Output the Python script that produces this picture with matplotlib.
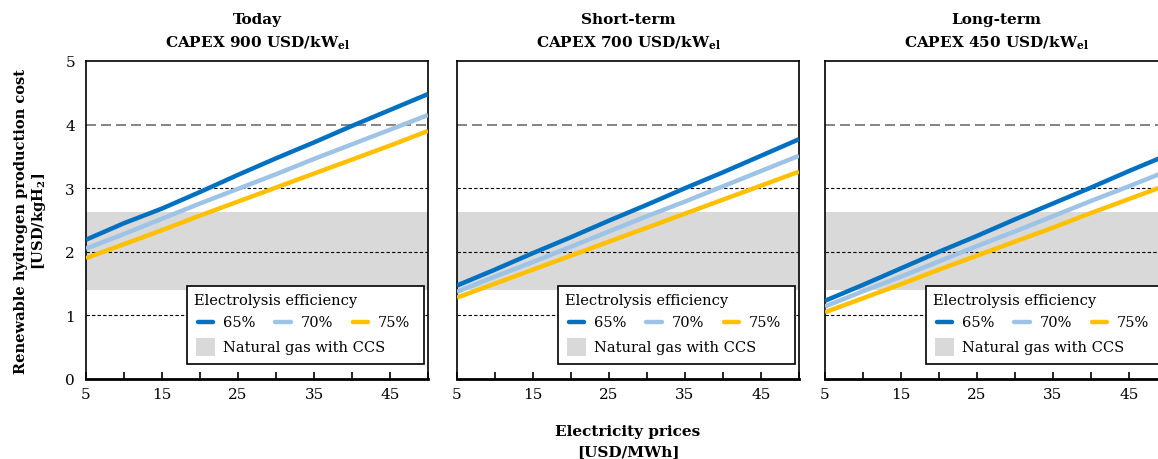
import numpy as np
import matplotlib.pyplot as plt
from matplotlib.patches import Rectangle

plt.rcParams['font.family'] = 'DejaVu Serif'
plt.rcParams['mathtext.fontset'] = 'custom'
plt.rcParams['mathtext.rm'] = 'DejaVu Serif'
plt.rcParams['mathtext.bf'] = 'DejaVu Serif:bold'

price = [5, 10, 15, 20, 25, 30, 35, 40, 45, 50]
effs = ['65%', '70%', '75%']
colors = ['#0070C0', '#9DC3E6', '#FFC000']

titles = ['Today', 'Short-term', 'Long-term']
capex = [900, 700, 450]

cost_today = [
    [2.19, 2.45, 2.68, 2.94, 3.21, 3.47, 3.72, 3.98, 4.23, 4.48],
    [2.05, 2.28, 2.52, 2.76, 2.99, 3.22, 3.46, 3.69, 3.92, 4.15],
    [1.90, 2.12, 2.34, 2.57, 2.79, 3.01, 3.23, 3.45, 3.67, 3.90],
]
cost_short = [
    [1.47, 1.72, 1.98, 2.23, 2.49, 2.74, 3.00, 3.25, 3.51, 3.77],
    [1.37, 1.61, 1.84, 2.08, 2.32, 2.56, 2.79, 3.03, 3.27, 3.51],
    [1.28, 1.50, 1.72, 1.94, 2.16, 2.38, 2.60, 2.82, 3.04, 3.26],
]
cost_long = [
    [1.23, 1.48, 1.74, 2.00, 2.25, 2.51, 2.76, 3.01, 3.27, 3.52],
    [1.14, 1.38, 1.61, 1.85, 2.09, 2.32, 2.56, 2.80, 3.03, 3.27],
    [1.05, 1.27, 1.49, 1.72, 1.94, 2.16, 2.38, 2.61, 2.83, 3.05],
]
panels = [cost_today, cost_short, cost_long]

ccs_low, ccs_high = 1.40, 2.63

fig = plt.figure(figsize=(11.58, 4.6), dpi=100)
lefts = [86, 457, 825]

for k in range(3):
    ax = fig.add_axes([lefts[k] / 1158, 80 / 460, 342 / 1158, 318 / 460])
    ax.axhspan(ccs_low, ccs_high, color='#D9D9D9', lw=0, zorder=0)
    for yv in [1, 2, 3]:
        ax.axhline(yv, color='black', lw=0.8, ls=(0, (3, 2)), zorder=1)
    ax.axhline(4, color='#707070', lw=1.2, ls=(0, (6, 3)), zorder=1)
    for i in range(3):
        ax.plot(price, panels[k][i], color=colors[i], lw=3.2, zorder=3,
                solid_capstyle='butt')
    ax.set_xlim(5, 50)
    ax.set_ylim(0, 5)
    ax.set_xticks([5, 15, 25, 35, 45])
    ax.set_xticks([10, 20, 30, 40, 50], minor=True)
    ax.tick_params(axis='x', which='both', direction='in', length=5, width=1.2,
                   labelsize=11, pad=6)
    ax.tick_params(axis='y', length=0, labelsize=11, pad=8)
    if k > 0:
        ax.set_yticklabels([])
    for s in ['top', 'left', 'right']:
        ax.spines[s].set_linewidth(1.2)
    ax.spines['bottom'].set_linewidth(2)

    ax.text(0.5, 1.132, titles[k], transform=ax.transAxes, ha='center',
            va='center', fontsize=11, fontweight='bold')
    ax.text(0.5, 1.06, 'CAPEX %d USD/kW$_{\\mathbf{el}}$' % capex[k],
            transform=ax.transAxes, ha='center', va='center', fontsize=11,
            fontweight='bold')

    # legend box
    ax.add_patch(Rectangle((0.296, 0.047), 0.692, 0.245, transform=ax.transAxes,
                           facecolor='white', edgecolor='black', lw=1.2, zorder=5))
    ax.text(0.315, 0.25, 'Electrolysis efficiency', transform=ax.transAxes,
            va='center', fontsize=10.5, zorder=6)
    hx = [0.328, 0.554, 0.780]
    for i in range(3):
        ax.plot([hx[i], hx[i] + 0.044], [0.18, 0.18], transform=ax.transAxes,
                color=colors[i], lw=3.2, solid_capstyle='round', zorder=6)
        ax.text(hx[i] + 0.074, 0.18, effs[i], transform=ax.transAxes,
                va='center', fontsize=10.5, zorder=6)
    ax.add_patch(Rectangle((0.323, 0.072), 0.055, 0.057, transform=ax.transAxes,
                           facecolor='#D9D9D9', lw=0, zorder=6))
    ax.text(0.402, 0.10, 'Natural gas with CCS', transform=ax.transAxes,
            va='center', fontsize=10.5, zorder=6)

    if k == 0:
        ax.set_ylabel('Renewable hydrogen production cost\n[USD/kgH$_\\mathbf{2}$]',
                      fontsize=10.5, fontweight='bold', labelpad=12)

fig.text(628 / 1158, 1 - 432 / 460, 'Electricity prices', ha='center',
         va='center', fontsize=11, fontweight='bold')
fig.text(628 / 1158, 1 - 452 / 460, '[USD/MWh]', ha='center', va='center',
         fontsize=11, fontweight='bold')

fig.savefig('out.png', dpi=100)
